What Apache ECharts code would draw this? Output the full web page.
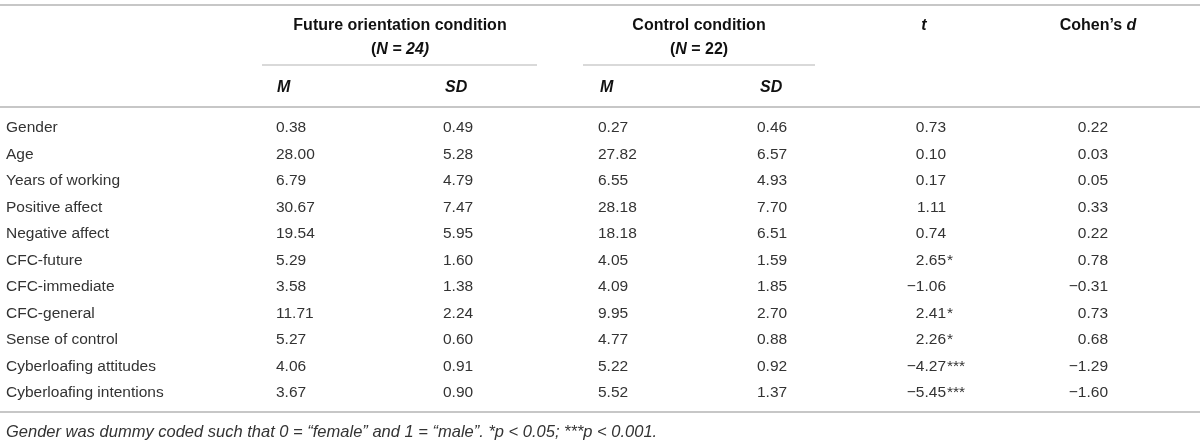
<!DOCTYPE html>
<html>
<head>
<meta charset="utf-8">
<script src="https://cdn.jsdelivr.net/npm/echarts@6/dist/echarts.min.js"></script>
<style>
  html, body { margin: 0; padding: 0; background: #fff; }
  #table1 { width: 1200px; height: 445px; }
</style>
</head>
<body>
<div id="table1"></div>
<script>
// table values
var rowLabels = ['Gender', 'Age', 'Years of working', 'Positive affect', 'Negative affect',
    'CFC-future', 'CFC-immediate', 'CFC-general', 'Sense of control',
    'Cyberloafing attitudes', 'Cyberloafing intentions'];
var futureM = [0.38, 28.00, 6.79, 30.67, 19.54, 5.29, 3.58, 11.71, 5.27, 4.06, 3.67];
var futureSD = [0.49, 5.28, 4.79, 7.47, 5.95, 1.60, 1.38, 2.24, 0.60, 0.91, 0.90];
var controlM = [0.27, 27.82, 6.55, 28.18, 18.18, 4.05, 4.09, 9.95, 4.77, 5.22, 5.52];
var controlSD = [0.46, 6.57, 4.93, 7.70, 6.51, 1.59, 1.85, 2.70, 0.88, 0.92, 1.37];
var tValues = [0.73, 0.10, 0.17, 1.11, 0.74, 2.65, -1.06, 2.41, 2.26, -4.27, -5.45];
var tStars = ['', '', '', '', '', '*', '', '*', '*', '***', '***'];
var dValues = [0.22, 0.03, 0.05, 0.33, 0.22, 0.78, -0.31, 0.73, 0.68, -1.29, -1.60];
var footnote = 'Gender was dummy coded such that 0 = \u201cfemale\u201d and 1 = \u201cmale\u201d. *p < 0.05; ***p < 0.001.';

var FONT = 'Liberation Sans';
var FS = 15.5;
var TXT = '#333';
var HEAD = '#111';
var RULE = '#b4b4b4';

function fmt(v) {
    return (v < 0 ? '\u2212' : '') + Math.abs(v).toFixed(2);
}

// one custom series per column; x is the column's anchor on the 0..1200 axis
function column(texts, x, align) {
    return {
        type: 'custom',
        coordinateSystem: 'cartesian2d',
        silent: true,
        data: texts.map(function (t, i) { return [x, i]; }),
        renderItem: function (params, api) {
            var p = api.coord([api.value(0), api.value(1)]);
            return {
                type: 'text',
                x: p[0],
                y: p[1],
                style: {
                    text: texts[params.dataIndex],
                    fill: TXT,
                    fontSize: FS,
                    fontFamily: FONT,
                    align: align,
                    verticalAlign: 'middle'
                }
            };
        }
    };
}

function rule(x1, y, x2, w) {
    return {
        type: 'line',
        shape: { x1: x1, y1: y, x2: x2, y2: y },
        style: { stroke: RULE, lineWidth: w || 1.5 }
    };
}

function head(x, y, text, rich, align) {
    return {
        type: 'text',
        x: x,
        y: y,
        style: {
            text: text,
            rich: rich,
            fill: HEAD,
            fontSize: 16,
            fontWeight: 'bold',
            fontFamily: FONT,
            align: align || 'center',
            verticalAlign: 'middle'
        }
    };
}

var bold = { fontWeight: 'bold', fontSize: 16, fontFamily: FONT, fill: HEAD };
var boldIt = { fontWeight: 'bold', fontStyle: 'italic', fontSize: 16, fontFamily: FONT, fill: HEAD };
var rich = { b: bold, i: boldIt };

var chart = echarts.init(document.getElementById('table1'));

var option = {
    animation: false,
    grid: { left: 0, right: 0, top: 114.75, bottom: 38.75 },
    xAxis: { type: 'value', min: 0, max: 1200, show: false },
    yAxis: {
        type: 'category',
        data: rowLabels,
        inverse: true,
        axisLine: { show: false },
        axisTick: { show: false },
        splitLine: { show: false },
        axisLabel: {
            inside: true,
            margin: 6,
            color: TXT,
            fontSize: FS,
            fontFamily: FONT
        }
    },
    graphic: [
        rule(0, 5, 1200),
        rule(262, 65, 537, 1.2),
        rule(583, 65, 815, 1.2),
        rule(0, 107, 1200),
        rule(0, 412, 1200),
        head(400, 26, '{b|Future orientation condition}', rich),
        head(400, 50, '{b|(}{i|N = 24)}', rich),
        head(699, 26, '{b|Control condition}', rich),
        head(699, 50, '{b|(}{i|N}{b| = 22)}', rich),
        head(924, 26, '{i|t}', rich),
        head(1098, 26, '{b|Cohen\u2019s }{i|d}', rich),
        head(277, 88, '{i|M}', rich, 'left'),
        head(445, 88, '{i|SD}', rich, 'left'),
        head(600, 88, '{i|M}', rich, 'left'),
        head(760, 88, '{i|SD}', rich, 'left'),
        {
            type: 'text',
            x: 6,
            y: 432,
            style: {
                text: footnote,
                fill: TXT,
                fontSize: 16.5,
                fontStyle: 'italic',
                fontFamily: FONT,
                align: 'left',
                verticalAlign: 'middle'
            }
        }
    ],
    series: [
        column(futureM.map(fmt), 276, 'left'),
        column(futureSD.map(fmt), 443, 'left'),
        column(controlM.map(fmt), 598, 'left'),
        column(controlSD.map(fmt), 757, 'left'),
        column(tValues.map(fmt), 946, 'right'),
        column(tStars, 947, 'left'),
        column(dValues.map(fmt), 1108, 'right')
    ]
};

chart.setOption(option);
</script>
</body>
</html>
